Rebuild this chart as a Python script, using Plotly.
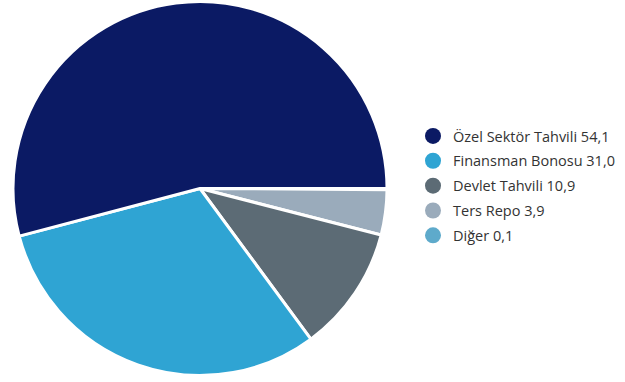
import plotly.graph_objects as go

categories = ["Özel Sektör Tahvili", "Finansman Bonosu", "Devlet Tahvili", "Ters Repo", "Diğer"]
values = [54.1, 31.0, 10.9, 3.9, 0.1]
value_labels = ["54,1", "31,0", "10,9", "3,9", "0,1"]
colors = ["#0b1a64", "#2fa4d3", "#5c6b75", "#9aabbb", "#5eaacb"]

fig = go.Figure()
# drawn clockwise from 3 o'clock in reverse order == counterclockwise in original order
fig.add_trace(go.Pie(
    labels=categories[::-1], values=values[::-1], sort=False,
    direction="clockwise", rotation=90,
    marker=dict(colors=colors[::-1], line=dict(color="white", width=3)),
    textinfo="none", hoverinfo="label+value", showlegend=False,
    domain=dict(x=[13/625, 387/625], y=[6/382, 381/382]),
))

for i, (cat, lab, col) in enumerate(zip(categories, value_labels, colors)):
    fig.add_trace(go.Scatter(
        x=[None], y=[None], mode="markers", name=f"{cat} {lab}",
        legendgroup=f"g{i}",
        marker=dict(symbol="circle", size=16, color=col),
        showlegend=True,
    ))

fig.update_layout(
    width=625, height=382,
    margin=dict(l=0, r=0, t=0, b=0),
    paper_bgcolor="white", plot_bgcolor="white",
    xaxis=dict(visible=False), yaxis=dict(visible=False),
    legend=dict(x=413/625, y=1 - 186/382, xanchor="left", yanchor="middle",
                font=dict(family="Open Sans, sans-serif", size=14.5, color="#333333"),
                itemsizing="trace", tracegroupgap=3, bgcolor="rgba(0,0,0,0)"),
    font=dict(family="Open Sans, sans-serif"),
)

fig.write_html("out.html", config={"displayModeBar": False},
               post_script="document.body.style.margin='0';")
